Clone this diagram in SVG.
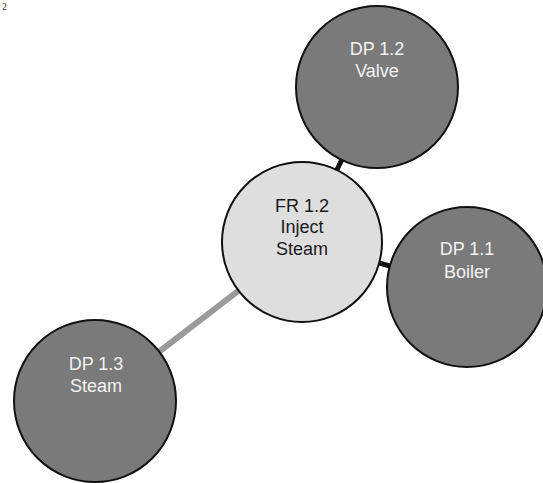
<svg xmlns="http://www.w3.org/2000/svg" width="543" height="483" viewBox="0 0 543 483">
<style>
.dp{fill:#7a7a7a;stroke:#111;stroke-width:2}
.fr{fill:#dedede;stroke:#111;stroke-width:2}
.lt{font-family:"Liberation Sans",Arial,sans-serif;font-size:18px;text-anchor:middle;fill:#f2f2f2}
.dk{font-family:"Liberation Sans",Arial,sans-serif;font-size:18px;text-anchor:middle;fill:#1a1a1a}
</style>
<rect width="543" height="483" fill="#fff"/>
<text x="2" y="10" font-family="Liberation Serif,serif" font-size="10" fill="#333">2</text>
<g id="connectors">
<line x1="302" y1="242" x2="377" y2="87" stroke="#111" stroke-width="5"/>
<line x1="302" y1="242" x2="467" y2="287" stroke="#111" stroke-width="5"/>
<line x1="302" y1="242" x2="95" y2="401" stroke="#9a9a9a" stroke-width="6"/>
</g>
<g id="dp12">
<circle class="dp" cx="377" cy="87" r="81"/>
<text class="lt" x="377" y="55">DP 1.2</text>
<text class="lt" x="377" y="77">Valve</text>
</g>
<g id="dp11">
<circle class="dp" cx="467" cy="287" r="80"/>
<text class="lt" x="467" y="255">DP 1.1</text>
<text class="lt" x="467" y="278">Boiler</text>
</g>
<g id="dp13">
<circle class="dp" cx="95" cy="401" r="81"/>
<text class="lt" x="96" y="370">DP 1.3</text>
<text class="lt" x="96" y="392">Steam</text>
</g>
<g id="fr12">
<circle class="fr" cx="302" cy="242" r="80"/>
<text class="dk" x="302" y="212">FR 1.2</text>
<text class="dk" x="302" y="233">Inject</text>
<text class="dk" x="302" y="255">Steam</text>
</g>
</svg>
